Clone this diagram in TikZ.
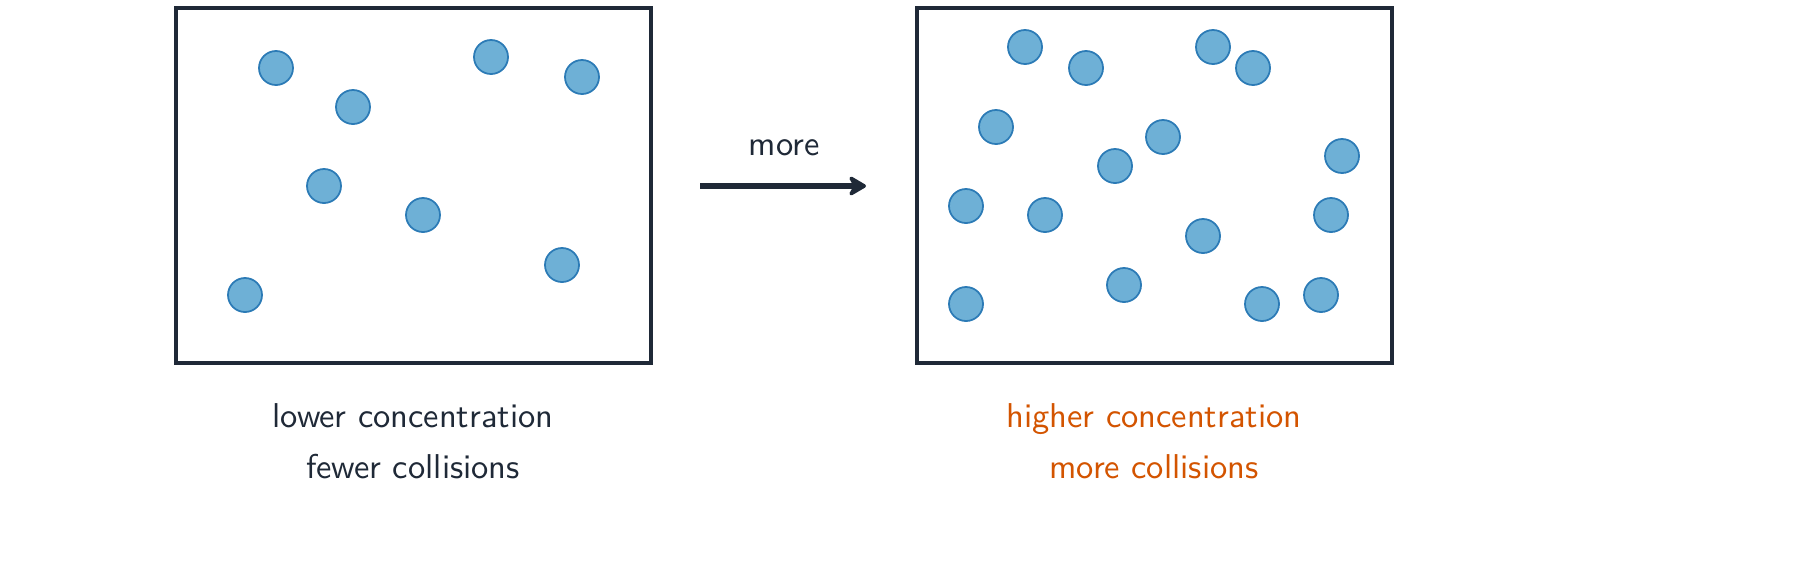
\documentclass[tikz,border=0pt]{standalone}
\usepackage{tikz}
\usetikzlibrary{positioning,arrows.meta}
\definecolor{ink}{HTML}{1F2937}
\definecolor{ballfill}{HTML}{6EB0D6}
\definecolor{ballline}{HTML}{2C7BB6}
\definecolor{hot}{HTML}{D35400}
\tikzset{
  box/.style={draw=ink, line width=1.2pt},
  ball/.style={circle, fill=ballfill, draw=ballline, line width=0.5pt, minimum size=0.34cm, inner sep=0pt},
  caption/.style={align=center, font=\sffamily\fontsize{9.8}{14.5}\selectfont}
}
\begin{document}
\begin{tikzpicture}[x=0.01cm, y=-0.01cm]
\draw[box] (176,8) rectangle (651,363);
\draw[box] (917,8) rectangle (1392,363);

\foreach \px/\py [count=\i] in {276/68, 353/107, 491/57, 582/77, 324/186, 423/215, 562/265, 245/295}
  \node[ball] (l\i) at (\px,\py) {};
\foreach \px/\py [count=\i] in {1025/47, 1086/68, 1213/47, 1253/68, 996/127, 1163/137, 1342/156, 1115/166, 966/206, 1045/215, 1331/215, 1203/236, 1124/285, 966/304, 1262/304, 1321/295}
  \node[ball] (r\i) at (\px,\py) {};

\coordinate (from) at (700,186);
\coordinate (to) at (866,186);
\draw[ink, line width=1.6pt, -{Stealth[length=6pt, width=7pt, round]}] (from) -- (to);
\node[caption, text=ink] (more) at (784,148) {more};

\node[caption, text=ink] (low) at (413,441) {lower concentration\\fewer collisions};
\node[caption, text=hot] (high) at (1154,441) {higher concentration\\more collisions};

\pgfresetboundingbox
\useasboundingbox (0,0) rectangle (1800,566);
\end{tikzpicture}
\end{document}
